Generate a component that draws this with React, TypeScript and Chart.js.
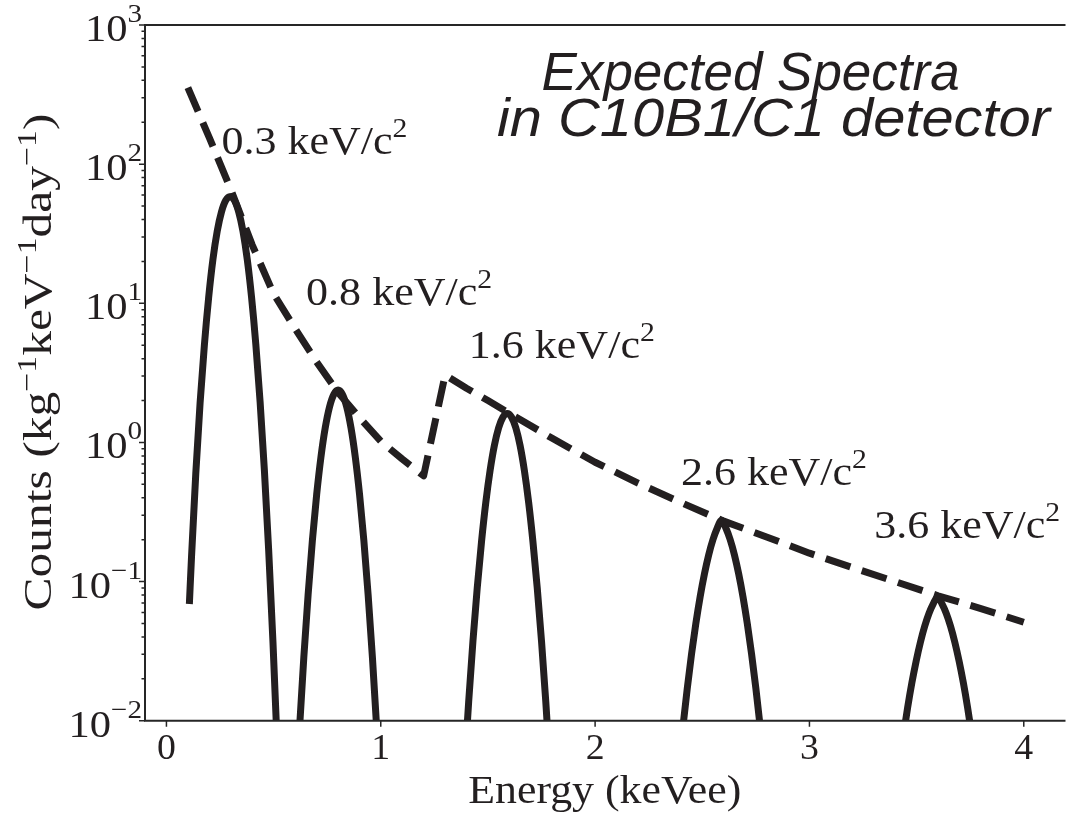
import React, { useEffect, useRef } from "react";
import { Chart, registerables } from "chart.js";
Chart.register(...registerables);

const W = 1068;
const H = 813;

// ---- tick values ----
const xTickValues = [0, 1, 2, 3, 4];
const yTickExponents = [-2, -1, 0, 1, 2, 3];

// ---- expected total spectrum (dashed) ----
const totalEnergy = [0.1, 0.2, 0.3, 0.4, 0.5, 0.6, 0.7, 0.8, 0.9, 1.0, 1.1, 1.2, 1.3, 1.4, 1.5, 1.6, 1.8, 2.0, 2.2, 2.4, 2.6, 2.8, 3.0, 3.2, 3.4, 3.6, 3.8, 4.0];
const totalCounts = [355, 155, 66, 26.3, 11.7, 6.6, 3.8, 2.29, 1.51, 1.02, 0.76, 0.575, 3.05, 2.45, 2.0, 1.62, 1.07, 0.72, 0.51, 0.37, 0.272, 0.209, 0.16, 0.126, 0.1, 0.079, 0.064, 0.051];

// ---- individual mass peaks (solid) ----
const peak03Energy = [0.107, 0.117, 0.137, 0.157, 0.177, 0.197, 0.217, 0.237, 0.257, 0.277, 0.297, 0.317, 0.337, 0.357, 0.377, 0.397, 0.417, 0.437, 0.457, 0.477, 0.497, 0.517, 0.537];
const peak03Counts = [0.069, 0.15, 0.6, 1.92, 5.0, 11.0, 20.7, 33, 45.5, 55, 58.3, 55, 45.5, 33, 20.7, 11.1, 5.08, 1.96, 0.631, 0.168, 0.0368, 0.00655, 0.00095];

const peak08Energy = [0.581, 0.601, 0.621, 0.641, 0.661, 0.681, 0.701, 0.721, 0.741, 0.761, 0.781, 0.801, 0.821, 0.841, 0.861, 0.881, 0.901, 0.921, 0.941, 0.961, 0.981, 1.001, 1.021];
const peak08Counts = [0.00056, 0.00238, 0.00883, 0.0286, 0.0805, 0.198, 0.423, 0.787, 1.276, 1.803, 2.218, 2.377, 2.218, 1.803, 1.276, 0.787, 0.423, 0.198, 0.0805, 0.0286, 0.00883, 0.00238, 0.00056];

const peak16Energy = [1.37, 1.39, 1.41, 1.43, 1.45, 1.47, 1.49, 1.51, 1.53, 1.55, 1.57, 1.59, 1.61, 1.63, 1.65, 1.67, 1.69, 1.71, 1.73, 1.75, 1.77, 1.79, 1.81];
const peak16Counts = [0.00129, 0.00445, 0.0136, 0.0372, 0.09, 0.193, 0.37, 0.628, 0.95, 1.276, 1.521, 1.614, 1.521, 1.276, 0.95, 0.628, 0.37, 0.193, 0.09, 0.0372, 0.0136, 0.00445, 0.00129];

const peak26Energy = [2.39, 2.41, 2.43, 2.45, 2.47, 2.49, 2.51, 2.53, 2.55, 2.57, 2.59, 2.61, 2.63, 2.65, 2.67, 2.69, 2.71, 2.73, 2.75, 2.77, 2.79];
const peak26Counts = [0.00456, 0.0091, 0.0171, 0.0302, 0.0499, 0.0776, 0.1132, 0.1556, 0.2004, 0.2427, 0.276, 0.2427, 0.2004, 0.1556, 0.1132, 0.0776, 0.0499, 0.0302, 0.0171, 0.0091, 0.00456];

const peak36Energy = [3.418, 3.438, 3.458, 3.478, 3.498, 3.518, 3.538, 3.558, 3.578, 3.598, 3.618, 3.638, 3.658, 3.678, 3.698, 3.718, 3.738, 3.758, 3.778];
const peak36Counts = [0.00467, 0.0078, 0.0124, 0.01875, 0.0269, 0.0368, 0.0479, 0.0592, 0.0695, 0.0776, 0.0695, 0.0592, 0.0479, 0.0368, 0.0269, 0.01875, 0.0124, 0.0078, 0.00467];

// ---- text ----
const massLabels = ["0.3", "0.8", "1.6", "2.6", "3.6"];
const massLabelEnergy = [0.2565, 0.6516, 1.4106, 2.4006, 3.302];
const massLabelCounts = [118, 9.73, 4.05, 0.494, 0.2056];
const titleLines = ["Expected Spectra", "in C10B1/C1 detector"];
const xTitle = "Energy (keVee)";

// ---- styling / layout config ----
const INK = "#231f20";
const AXIS = "#262626";
const SERIF = '"Liberation Serif", "Times New Roman", serif';
const SANS = '"Liberation Sans", Arial, sans-serif';
const titleLayout = [
  { left: 541.6, width: 418, baseline: 90 },
  { left: 497, width: 553, baseline: 136 },
];

type Part = { t: string; sup?: boolean };
type RichOpts = {
  size: number;
  supSize: number;
  rise: number;
  family: string;
  style?: string;
  align: "left" | "right" | "center";
  width?: number;
  stretch?: number;
};

function fontStr(style: string, size: number, family: string) {
  return `${style} ${size}px ${family}`.trim();
}

function drawRich(ctx: CanvasRenderingContext2D, parts: Part[], x: number, y: number, o: RichOpts) {
  const style = o.style || "";
  const widths: number[] = [];
  let natural = 0;
  for (const p of parts) {
    ctx.font = fontStr(style, p.sup ? o.supSize : o.size, o.family);
    const w = ctx.measureText(p.t).width;
    widths.push(w);
    natural += w;
  }
  const sx = o.width ? o.width / natural : o.stretch || 1;
  const total = natural * sx;
  const x0 = o.align === "left" ? x : o.align === "right" ? x - total : x - total / 2;
  ctx.save();
  ctx.translate(x0, y);
  ctx.scale(sx, 1);
  ctx.textAlign = "left";
  ctx.textBaseline = "alphabetic";
  let cx = 0;
  parts.forEach((p, i) => {
    ctx.font = fontStr(style, p.sup ? o.supSize : o.size, o.family);
    ctx.fillText(p.t, cx, p.sup ? -o.rise : 0);
    cx += widths[i];
  });
  ctx.restore();
}

function expText(e: number) {
  return e < 0 ? "\u2212" + Math.abs(e) : String(e);
}

const decorPlugin = {
  id: "decor",
  afterDraw(chart: any) {
    const ctx: CanvasRenderingContext2D = chart.ctx;
    const xs = chart.scales.x;
    const ys = chart.scales.y;
    const a = chart.chartArea;
    ctx.save();
    ctx.fillStyle = INK;
    ctx.strokeStyle = AXIS;

    // spines (left, bottom, top)
    ctx.lineWidth = 2;
    ctx.lineCap = "square";
    ctx.beginPath();
    ctx.moveTo(a.left, a.top);
    ctx.lineTo(a.left, a.bottom);
    ctx.moveTo(a.left, a.bottom);
    ctx.lineTo(a.right, a.bottom);
    ctx.moveTo(a.left, a.top);
    ctx.lineTo(a.right, a.top);
    ctx.stroke();

    // ticks
    ctx.lineCap = "butt";
    ctx.lineWidth = 1.5;
    ctx.beginPath();
    for (const e of yTickExponents) {
      const py = ys.getPixelForValue(Math.pow(10, e));
      ctx.moveTo(a.left - 6, py);
      ctx.lineTo(a.left, py);
    }
    for (let e = -2; e < 3; e++) {
      for (let m = 2; m <= 9; m++) {
        const py = ys.getPixelForValue(m * Math.pow(10, e));
        ctx.moveTo(a.left - 3.5, py);
        ctx.lineTo(a.left, py);
      }
    }
    for (const t of xTickValues) {
      const px = xs.getPixelForValue(t);
      ctx.moveTo(px, a.bottom);
      ctx.lineTo(px, a.bottom + 6);
    }
    ctx.stroke();

    // y tick labels
    for (const e of yTickExponents) {
      const py = ys.getPixelForValue(Math.pow(10, e));
      drawRich(ctx, [{ t: "10" }, { t: expText(e), sup: true }], 142, py + 16, {
        size: 38, supSize: 26, rise: 19, family: SERIF, align: "right", stretch: 1.12,
      });
    }
    // x tick labels
    for (const t of xTickValues) {
      const px = xs.getPixelForValue(t);
      drawRich(ctx, [{ t: String(t) }], px, a.bottom + 38, {
        size: 36, supSize: 23, rise: 0, family: SERIF, align: "center", stretch: 1.05,
      });
    }
    // x title
    drawRich(ctx, [{ t: xTitle }], (a.left + a.right) / 2, 803, {
      size: 40, supSize: 28, rise: 0, family: SERIF, align: "center", width: 273,
    });
    // y title
    ctx.save();
    ctx.translate(51, 362);
    ctx.rotate(-Math.PI / 2);
    drawRich(
      ctx,
      [
        { t: "Counts (kg" }, { t: "\u22121", sup: true },
        { t: "keV" }, { t: "\u22121", sup: true },
        { t: "day" }, { t: "\u22121", sup: true },
        { t: ")" },
      ],
      0, 0,
      { size: 41, supSize: 28, rise: 15, family: SERIF, align: "center", width: 497 }
    );
    ctx.restore();

    // mass labels
    massLabels.forEach((m, i) => {
      const px = xs.getPixelForValue(massLabelEnergy[i]);
      const py = ys.getPixelForValue(massLabelCounts[i]);
      drawRich(ctx, [{ t: m + " keV/c" }, { t: "2", sup: true }], px, py, {
        size: 40, supSize: 27, rise: 17, family: SERIF, align: "left", width: 186,
      });
    });

    // title
    titleLines.forEach((line, i) => {
      const l = titleLayout[i];
      drawRich(ctx, [{ t: line }], l.left, l.baseline, {
        size: 54, supSize: 30, rise: 0, family: SANS, style: "italic", align: "left", width: l.width,
      });
    });
    ctx.restore();
  },
};

function zipPoints(xs: number[], ys: number[]) {
  return xs.map((x, i) => ({ x, y: ys[i] }));
}

export default function App() {
  const ref = useRef<HTMLCanvasElement | null>(null);
  useEffect(() => {
    const canvas = ref.current;
    if (!canvas) return;
    const solid = (xs: number[], ys: number[]) => ({
      data: zipPoints(xs, ys),
      borderColor: INK,
      borderWidth: 7,
      pointRadius: 0,
      fill: false,
      cubicInterpolationMode: "monotone" as const,
      borderJoinStyle: "round" as const,
      borderCapStyle: "butt" as const,
      clip: { left: false, top: false, right: false, bottom: 0 } as any,
    });
    const chart = new Chart(canvas, {
      type: "line",
      data: {
        datasets: [
          {
            data: zipPoints(totalEnergy, totalCounts),
            borderColor: INK,
            borderWidth: 7,
            borderDash: [26, 12],
            pointRadius: 0,
            fill: false,
            tension: 0,
            borderJoinStyle: "round",
            borderCapStyle: "butt",
            clip: { left: false, top: false, right: false, bottom: 0 } as any,
          },
          solid(peak03Energy, peak03Counts),
          solid(peak08Energy, peak08Counts),
          solid(peak16Energy, peak16Counts),
          solid(peak26Energy, peak26Counts),
          solid(peak36Energy, peak36Counts),
        ],
      },
      options: {
        responsive: false,
        animation: false,
        devicePixelRatio: 1,
        events: [],
        layout: { padding: { left: 145, top: 25, right: 0, bottom: 92.3 } },
        plugins: {
          legend: { display: false },
          tooltip: { enabled: false },
          title: { display: false },
        },
        scales: {
          x: { type: "linear", min: -0.1, max: 4.19, display: false },
          y: { type: "logarithmic", min: 0.01, max: 1000, display: false },
        },
      },
      plugins: [decorPlugin],
    });
    let alive = true;
    const fs: any = (document as any).fonts;
    if (fs && fs.load) {
      Promise.all([
        fs.load(`40px ${SERIF}`),
        fs.load(`italic 54px ${SANS}`),
      ]).then(() => { if (alive) chart.update(); }).catch(() => {});
    }
    return () => {
      alive = false;
      chart.destroy();
    };
  }, []);
  return (
    <div style={{ position: "fixed", left: 0, top: 0, width: W, height: H, background: "#fff" }}>
      <canvas ref={ref} width={W} height={H} style={{ width: W, height: H, display: "block" }} />
    </div>
  );
}
